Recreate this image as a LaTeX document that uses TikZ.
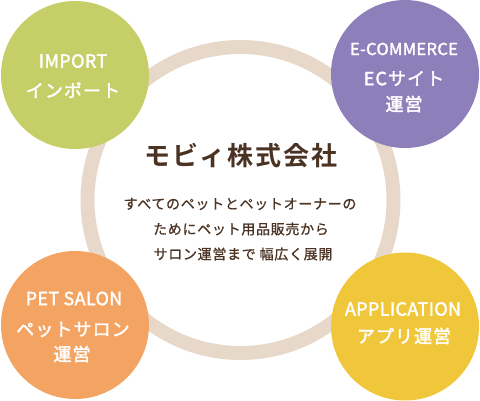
\documentclass[tikz,border=0pt]{standalone}
\usepackage{fontspec}
\setmainfont{Noto Sans CJK JP}[LetterSpace=5,FakeBold=0.8]
\newfontfamily\jpb{Noto Sans CJK JP Bold}[LetterSpace=8]
\newfontfamily\jpm{Noto Sans CJK JP}[LetterSpace=6,FakeBold=2]
\newfontfamily\latm{Noto Sans CJK JP}[LetterSpace=2,FakeBold=2]
\definecolor{ringc}{HTML}{E8D8CA}
\definecolor{cgreen}{HTML}{C6CE68}
\definecolor{cpurple}{HTML}{8D80BA}
\definecolor{corange}{HTML}{F4A462}
\definecolor{cyellow}{HTML}{F0C73A}
\definecolor{tbrown}{HTML}{4A3322}
\tikzset{
  blob/.style={circle, inner sep=0pt, minimum size=148pt},
  lab/.style={text=white, inner sep=0pt, anchor=center, font=\jpm\fontsize{18}{20}\selectfont},
  labs/.style={text=white, inner sep=0pt, anchor=center, font=\latm\fontsize{18}{20}\selectfont},
  body/.style={text=tbrown, inner sep=0pt, anchor=center, font=\fontsize{14}{16}\selectfont},
}
\begin{document}
\begin{tikzpicture}[x=1pt,y=-1pt]
\useasboundingbox (0,0) rectangle (480,400);
\node (ring) [circle, draw=ringc, line width=14pt, minimum size=306pt, inner sep=0pt] at (240.5,200) {};
\node (green) [blob, fill=cgreen] at (75,75) {};
\node (purple) [blob, fill=cpurple] at (405,74) {};
\node (orange) [blob, fill=corange] at (75,325) {};
\node (yellow) [blob, fill=cyellow] at (405,326.5) {};
\node (g1) [labs] at (73,61) {IMPORT};
\node (g2) [lab] at (73,90) {インポート};
\node (p1) [labs, font=\latm\fontsize{16.5}{18}\selectfont] at (404,49) {E-COMMERCE};
\node (p2) [lab] at (404,78.5) {ECサイト};
\node (p3) [lab] at (404,104) {運営};
\node (o1) [labs] at (74,298.5) {PET SALON};
\node (o2) [lab] at (73,329.5) {ペットサロン};
\node (o3) [lab] at (72,354) {運営};
\node (y1) [labs] at (403,309) {APPLICATION};
\node (y2) [lab] at (404,336) {アプリ運営};
\node (title) [text=tbrown, inner sep=0pt, font=\jpb\fontsize{26}{28}\selectfont] at (241,156) {モビィ株式会社};
\node (b1) [body] at (240,204) {すべてのペットとペットオーナーの};
\node (b2) [body] at (241,229) {ためにペット用品販売から};
\node (b3) [body] at (243,254) {サロン運営まで 幅広く展開};
\end{tikzpicture}
\end{document}
